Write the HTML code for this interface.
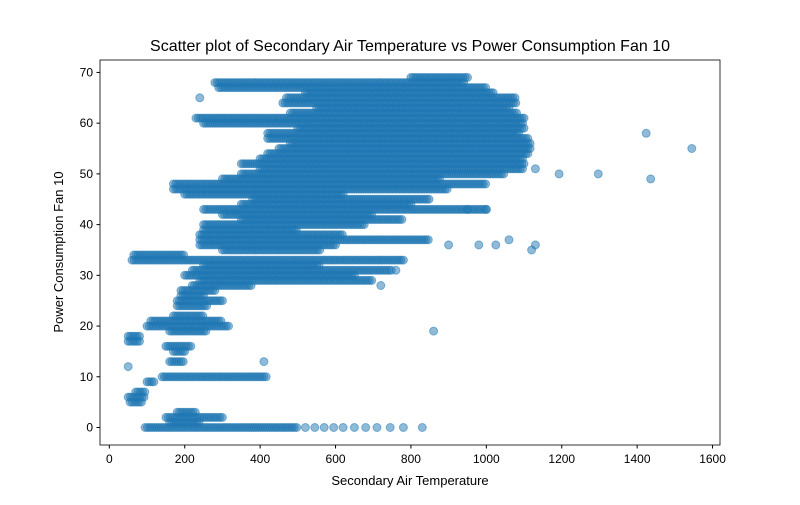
<!DOCTYPE html>
<html><head><meta charset="utf-8"><style>
body{margin:0;background:#fff}
text{font-family:"Liberation Sans",sans-serif;fill:#000}
</style></head><body>
<svg id="chart" width="800" height="500" xmlns="http://www.w3.org/2000/svg">
<rect width="800" height="500" fill="#fff"/>
<text x="410" y="51" font-size="16" text-anchor="middle">Scatter plot of Secondary Air Temperature vs Power Consumption Fan 10</text>
<g id="points"></g>
<rect x="100" y="60" width="620" height="385" fill="none" stroke="#000" stroke-width="0.8"/>
<g id="xticks"></g>
<g id="yticks"></g>
<text x="410" y="485" font-size="13" text-anchor="middle">Secondary Air Temperature</text>
<text transform="translate(63,252) rotate(-90)" font-size="13" text-anchor="middle">Power Consumption Fan 10</text>
</svg>
<script>
const streakY=[0,1,2,3,5,6,7,9,10,13,15,16,17,18,19,20,21,22,24,25,26,27,28,29,30,31,32,33,34,35,36,37,38,39,40,41,42,43,44,45,46,47,48,49,50,51,52,53,54,55,56,57,58,59,60,61,62,63,64,65,66,67,68,69];
const streakX0=[95,160,150,180,55,50,70,100,140,160,170,150,50,50,160,100,110,170,180,180,190,190,220,240,200,220,250,60,65,300,240,240,240,250,250,350,300,250,350,380,200,170,170,300,350,400,350,400,420,450,480,420,420,500,250,230,480,550,460,470,520,290,280,800];
const streakX1=[500,240,300,230,90,95,95,120,420,200,200,220,80,80,260,320,300,250,260,300,250,280,380,700,650,750,560,780,200,560,600,850,620,500,680,780,700,1000,800,850,620,900,1000,880,1050,1100,1100,1100,1110,1120,1120,1110,1090,1100,1100,1100,1080,1060,1080,1080,1020,1000,940,950];
const ptX=[520,545,570,595,620,650,680,710,745,780,830,1193,1297,1424,1436,1545,1130,1120,1060,1025,980,900,860,410,50,240,950,1000,1130,760,720];
const ptY=[0,0,0,0,0,0,0,0,0,0,0,50,50,58,49,55,36,35,37,36,36,36,19,13,12,65,43,43,51,31,28];
const xTicks=[0,200,400,600,800,1000,1200,1400,1600];
const yTicks=[0,10,20,30,40,50,60,70];
const xmin=-24.75,xmax=1619.75,ymin=-3.45,ymax=72.45;
const L=100,R=720,T=60,B=445;
const sx=v=>L+(v-xmin)/(xmax-xmin)*(R-L);
const sy=v=>B-(v-ymin)/(ymax-ymin)*(B-T);
const NS="http://www.w3.org/2000/svg";
const g=document.getElementById('points');
function dot(x,y){
  const c=document.createElementNS(NS,'circle');
  
  
  c.setAttribute('cx',sx(x).toFixed(1));c.setAttribute('cy',sy(y).toFixed(1));
  c.setAttribute('r','4');c.setAttribute('fill','#1f77b4');c.setAttribute('fill-opacity','0.5');
  c.setAttribute('stroke','#1f77b4');c.setAttribute('stroke-opacity','0.5');
  g.appendChild(c);
}
for(let i=0;i<streakY.length;i++){
  for(let x=streakX0[i];x<=streakX1[i];x+=6) dot(x,streakY[i]);
}
for(let i=0;i<ptX.length;i++) dot(ptX[i],ptY[i]);
const xg=document.getElementById('xticks');
xTicks.forEach(t=>{
  const l=document.createElementNS(NS,'line');
  
  
  l.setAttribute('x1',sx(t));l.setAttribute('x2',sx(t));l.setAttribute('y1',B);l.setAttribute('y2',B+3.5);l.setAttribute('stroke','#000');
  xg.appendChild(l);
  const tx=document.createElementNS(NS,'text');
  
  
  tx.setAttribute('x',sx(t));tx.setAttribute('y',B+18);tx.setAttribute('font-size','12');tx.setAttribute('text-anchor','middle');
  tx.textContent=t;xg.appendChild(tx);
});
const yg=document.getElementById('yticks');
yTicks.forEach(t=>{
  const l=document.createElementNS(NS,'line');
  
  
  l.setAttribute('x1',L-3.5);l.setAttribute('x2',L);l.setAttribute('y1',sy(t));l.setAttribute('y2',sy(t));l.setAttribute('stroke','#000');
  yg.appendChild(l);
  const tx=document.createElementNS(NS,'text');
  
  
  tx.setAttribute('x',L-7);tx.setAttribute('y',sy(t)+4);tx.setAttribute('font-size','12');tx.setAttribute('text-anchor','end');
  tx.textContent=t;yg.appendChild(tx);
});
</script>
</body></html>
